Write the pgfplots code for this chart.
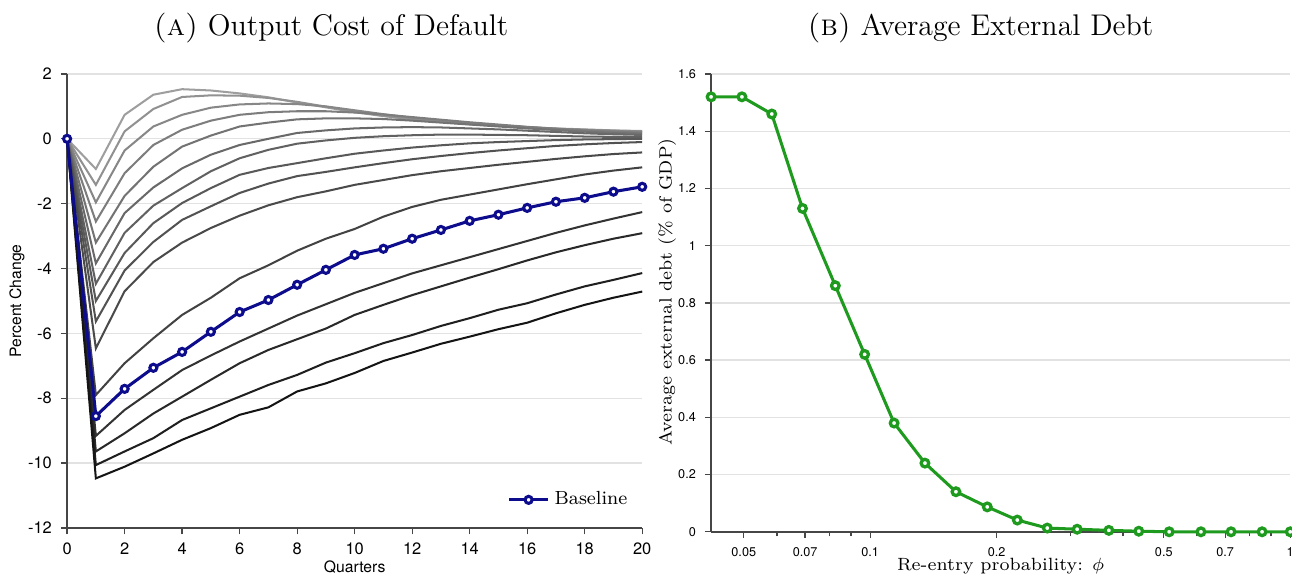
\documentclass[border=0pt]{standalone}
\usepackage{fontspec}
\usepackage{pgfplots}
\usepackage{pgfplotstable}
\pgfplotsset{compat=1.18}
\newfontfamily\helv{TeX Gyre Heros}

\definecolor{basebl}{RGB}{12,12,140}
\definecolor{grn}{RGB}{30,155,30}
\definecolor{gridc}{RGB}{226,226,226}
\definecolor{axc}{RGB}{70,70,70}

% impulse responses, one column per parameter value
\pgfplotstableread{
q  l1    l2    l3    l4    l5    l6    l7    l8    l9    l10   l11   l13   l14   l15    l16    base
0  0     0     0     0     0     0     0     0     0     0     0     0     0     0      0      0
1  -0.93 -1.42 -1.96 -2.55 -3.20 -3.84 -4.47 -5.00 -5.63 -6.46 -7.90 -9.16 -9.64 -10.06 -10.47 -8.55
2  0.74  0.23  -0.36 -1.06 -1.76 -2.29 -2.90 -3.52 -4.06 -4.70 -6.92 -8.36 -9.08 -9.64  -10.11 -7.71
3  1.36  0.92  0.38  -0.19 -0.86 -1.50 -2.06 -2.60 -3.18 -3.80 -6.15 -7.74 -8.47 -9.23  -9.70  -7.06
4  1.53  1.29  0.74  0.28  -0.24 -0.91 -1.52 -1.98 -2.50 -3.20 -5.43 -7.13 -7.95 -8.67  -9.28  -6.57
5  1.49  1.34  0.96  0.56  0.10  -0.49 -1.00 -1.52 -2.08 -2.75 -4.90 -6.68 -7.43 -8.31  -8.92  -5.95
6  1.40  1.33  1.06  0.74  0.38  -0.19 -0.60 -1.11 -1.67 -2.37 -4.30 -6.25 -6.92 -7.95  -8.51  -5.34
7  1.28  1.26  1.09  0.82  0.50  0.00  -0.34 -0.90 -1.38 -2.05 -3.90 -5.85 -6.51 -7.59  -8.28  -4.97
8  1.12  1.14  1.07  0.85  0.60  0.18  -0.15 -0.75 -1.15 -1.80 -3.45 -5.45 -6.18 -7.28  -7.79  -4.50
9  0.97  0.99  1.00  0.85  0.63  0.26  -0.05 -0.60 -1.02 -1.62 -3.08 -5.10 -5.85 -6.90  -7.54  -4.04
10 0.82  0.84  0.88  0.81  0.63  0.32  0.03  -0.46 -0.88 -1.42 -2.78 -4.75 -5.43 -6.61  -7.22  -3.58
11 0.70  0.71  0.76  0.75  0.61  0.35  0.08  -0.36 -0.75 -1.27 -2.40 -4.45 -5.12 -6.30  -6.85  -3.39
12 0.60  0.60  0.65  0.67  0.56  0.36  0.11  -0.27 -0.63 -1.12 -2.10 -4.15 -4.82 -6.05  -6.59  -3.08
13 0.52  0.52  0.56  0.59  0.50  0.35  0.13  -0.20 -0.53 -1.00 -1.88 -3.90 -4.55 -5.77  -6.32  -2.81
14 0.46  0.45  0.48  0.51  0.44  0.32  0.13  -0.14 -0.44 -0.90 -1.72 -3.65 -4.28 -5.53  -6.10  -2.53
15 0.41  0.40  0.42  0.44  0.38  0.29  0.12  -0.10 -0.36 -0.80 -1.56 -3.40 -4.02 -5.27  -5.87  -2.34
16 0.36  0.35  0.36  0.37  0.32  0.25  0.11  -0.07 -0.29 -0.71 -1.40 -3.15 -3.75 -5.07  -5.67  -2.13
17 0.32  0.31  0.31  0.31  0.27  0.21  0.09  -0.04 -0.22 -0.62 -1.25 -2.90 -3.50 -4.80  -5.38  -1.94
18 0.29  0.28  0.27  0.26  0.22  0.17  0.07  -0.02 -0.17 -0.54 -1.10 -2.67 -3.28 -4.55  -5.12  -1.82
19 0.26  0.25  0.24  0.22  0.18  0.14  0.06  -0.01 -0.13 -0.47 -0.98 -2.46 -3.08 -4.35  -4.90  -1.63
20 0.24  0.23  0.22  0.19  0.16  0.12  0.05  0.00  -0.10 -0.42 -0.88 -2.26 -2.91 -4.14  -4.71  -1.48
}\irf

\pgfplotstableread{
phi    debt
0.0418 1.52
0.0495 1.52
0.0583 1.46
0.069  1.13
0.0826 0.86
0.097  0.62
0.114  0.38
0.135  0.24
0.160  0.14
0.190  0.087
0.224  0.041
0.264  0.013
0.311  0.009
0.370  0.005
0.436  0.002
0.515  0
0.613  0
0.723  0
0.857  0
1.0    0
}\debt

\pgfplotsset{
  panel/.style={
    scale only axis,
    axis lines=left,
    axis line style={-, axc, line width=0.6pt},
    tick align=outside,
    major tick length=2.5pt,
    minor tick length=1.8pt,
    tick style={axc, line width=0.5pt},
    ymajorgrids,
    major grid style={gridc, line width=0.5pt},
    /pgf/number format/assume math mode=true,
    clip=false,
  },
  irf/.style={no marks, line width=0.8pt, forget plot},
}

\begin{document}
\begin{tikzpicture}
\useasboundingbox (0,0) rectangle (510.2pt,227.5pt);

\begin{axis}[panel,
  at={(26.5pt,19pt)}, anchor=south west,
  width=227.1pt, height=179.3pt,
  xmin=0, xmax=20, ymin=-12, ymax=2,
  xtick={0,2,...,20}, ytick={-12,-10,...,2},
  tick label style={font=\helv\fontsize{6.5}{7}\selectfont},
  xlabel={Quarters}, ylabel={Percent Change},
  label style={font=\helv\fontsize{6.2}{7}\selectfont},
  xlabel style={at={(axis description cs:0.5,-0.086)}, anchor=center},
  ylabel style={at={(axis description cs:-0.087,0.5)}, anchor=center},
  title={\textsc{(a)} Output Cost of Default},
  title style={at={(axis description cs:0.459,1)}, anchor=base, yshift=9pt,
    font=\fontsize{11.8}{13}\selectfont},
  legend style={draw=none, fill=none, at={(axis description cs:0.997,0.062)},
    anchor=east, font=\fontsize{7.5}{9}\selectfont},
  legend image code/.code={\draw[mark repeat=2, mark phase=2, #1]
    plot coordinates {(0cm,0cm) (0.27cm,0cm) (0.54cm,0cm)};},
]
\addplot[irf, color=black!38] table[x=q, y=l1]{\irf};
\addplot[irf, color=black!43] table[x=q, y=l2]{\irf};
\addplot[irf, color=black!47] table[x=q, y=l3]{\irf};
\addplot[irf, color=black!51] table[x=q, y=l4]{\irf};
\addplot[irf, color=black!55] table[x=q, y=l5]{\irf};
\addplot[irf, color=black!59] table[x=q, y=l6]{\irf};
\addplot[irf, color=black!62] table[x=q, y=l7]{\irf};
\addplot[irf, color=black!65] table[x=q, y=l8]{\irf};
\addplot[irf, color=black!68] table[x=q, y=l9]{\irf};
\addplot[irf, color=black!71] table[x=q, y=l10]{\irf};
\addplot[irf, color=black!74] table[x=q, y=l11]{\irf};
\addplot[irf, color=black!80] table[x=q, y=l13]{\irf};
\addplot[irf, color=black!84] table[x=q, y=l14]{\irf};
\addplot[irf, color=black!88] table[x=q, y=l15]{\irf};
\addplot[irf, color=black!92] table[x=q, y=l16]{\irf};
\addplot[basebl, line width=1.2pt, mark=*, mark size=1.4pt,
  mark options={fill=white, draw=basebl, line width=1.2pt}]
  table[x=q, y=base]{\irf};
\addlegendentry{Baseline}
\end{axis}

\begin{axis}[panel,
  at={(280.8pt,17.5pt)}, anchor=south west,
  width=228.7pt, height=180.8pt,
  xmode=log, xmin=0.0418, xmax=1, ymin=0, ymax=1.6,
  xtick={0.05,0.07,0.1,0.2,0.5,0.7,1},
  xticklabels={0.05,0.07,0.1,0.2,0.5,0.7,1},
  minor xtick={0.06,0.08,0.09,0.3,0.4,0.6,0.8,0.9},
  ytick={0,0.2,0.4,0.6,0.8,1,1.2,1.4,1.6},
  tick label style={font=\helv\fontsize{5}{6}\selectfont},
  xlabel={Re-entry probability: $\phi$},
  ylabel={Average external debt (\% of GDP)},
  label style={font=\fontsize{7}{8}\selectfont},
  xlabel style={at={(axis description cs:0.5,-0.075)}, anchor=center},
  ylabel style={at={(axis description cs:-0.076,0.524)}, anchor=center},
  title={\textsc{(b)} Average External Debt},
  title style={at={(axis description cs:0.465,1)}, anchor=base, yshift=9pt,
    font=\fontsize{11.8}{13}\selectfont},
]
\addplot[grn, line width=1.2pt, mark=*, mark size=1.5pt,
  mark options={fill=white, draw=grn, line width=1.3pt}]
  table[x=phi, y=debt]{\debt};
\end{axis}
\end{tikzpicture}
\end{document}
